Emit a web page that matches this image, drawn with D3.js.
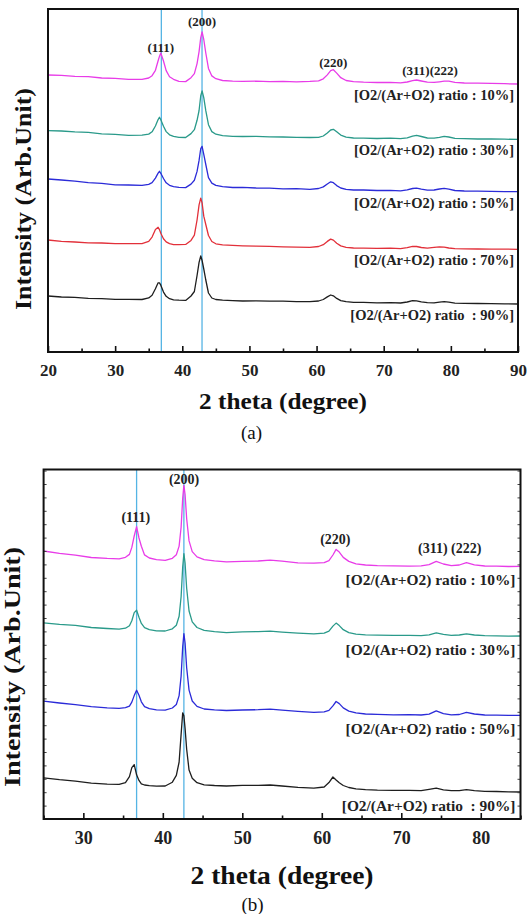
<!DOCTYPE html>
<html>
<head>
<meta charset="utf-8">
<script src="https://cdn.jsdelivr.net/npm/d3@7"></script>
<style>
  body { margin: 0; background: #fff; }
  svg text { font-family: "Liberation Serif", "Times New Roman", serif; }
</style>
</head>
<body>
<svg id="chart" width="528" height="914"></svg>
<script>
// ---- panel (a) data (arb. units) ----
var thetaA = [20,22,24,26,28,30,32,34,35,35.5,36,36.4,36.6,36.8,37.2,37.6,38.1,38.7,39.5,
  40.5,41.3,41.8,42.2,42.5,42.75,42.95,43.2,43.5,43.9,44.4,45,46,47.5,49,51,53,55,57,59,
  60.3,61,61.6,62.1,62.5,63,63.6,64.4,65.5,67,69,71,72.5,73.5,74.3,74.9,75.6,76.5,77.5,
  78.3,79,79.7,80.6,82,84,86,88,90];
var a10 = [277.0,276.6,275.6,275.3,274.0,273.6,272.6,272.7,274.0,276.3,281.7,291.2,295.6,299.0,291.0,281.4,275.2,272.7,270.6,
  270.4,274.3,278.3,288.4,300.4,314.4,320.0,312.5,299.0,283.6,276.1,273.3,271.5,270.8,270.6,270.8,270.4,270.6,270.2,270.6,
  271.2,273.2,277.1,281.3,282.3,278.9,274.3,271.5,270.3,269.8,269.5,269.6,269.2,270.0,271.4,272.0,271.0,269.8,269.6,
  270.2,270.8,270.9,269.6,269.0,268.8,268.6,268.3,268.0];
var a30 = [221.3,221.0,220.1,219.6,218.2,217.7,216.7,216.8,217.9,220.2,226.0,232.4,234.8,232.3,225.7,220.4,217.2,215.6,214.6,
  214.5,218.4,222.3,231.7,241.5,256.2,261.0,254.4,241.3,227.3,220.4,217.8,216.3,215.6,215.5,215.7,215.2,215.0,214.6,214.5,
  214.6,216.0,219.0,222.0,222.7,220.2,216.9,214.9,214.0,213.8,213.5,213.8,213.4,214.2,215.8,216.6,215.5,214.0,213.8,
  214.6,215.6,215.0,213.6,213.4,213.0,213.2,212.8,212.6];
var a50 = [173.0,172.0,170.8,169.3,168.6,167.2,167.0,166.6,167.7,169.3,173.9,178.9,180.7,178.7,173.5,169.2,166.7,165.4,164.6,
  164.4,167.9,171.7,180.6,191.6,203.4,205.6,197.6,187.5,174.4,168.9,166.6,165.3,164.5,164.6,164.0,163.9,163.2,163.4,162.7,
  163.5,165.1,168.0,170.2,169.3,166.4,164.0,162.7,162.0,162.0,161.5,161.7,161.2,162.2,163.5,163.8,162.8,161.8,162.0,
  163.0,163.6,162.9,161.5,161.0,160.9,160.7,160.4,160.3];
var a70 = [112.0,110.6,110.0,109.2,109.0,108.4,108.3,108.4,110.6,114.9,122.5,124.7,122.4,118.7,113.2,110.1,108.4,107.4,107.3,
  107.6,111.6,116.8,132.0,147.2,153.8,149.1,135.8,127.5,116.5,110.5,108.2,107.2,106.6,106.2,105.9,105.6,105.2,104.9,104.6,
  105.5,107.3,110.6,112.9,111.9,108.7,106.1,104.7,104.0,103.9,103.6,103.8,103.4,104.4,105.6,105.5,104.5,103.8,104.6,
  105.2,104.8,104.0,103.3,103.2,103.0,102.9,102.9,102.6];
var a90 = [56.0,55.0,54.6,53.7,53.4,52.7,52.6,52.5,54.1,56.7,63.3,69.2,69.1,66.8,59.9,55.7,53.3,52.1,51.8,
  51.6,56.0,60.5,76.5,89.7,96.0,91.5,83.0,72.0,59.0,54.0,52.5,51.8,51.3,51.0,51.2,50.9,50.8,50.4,50.4,
  51.0,52.5,55.1,57.0,56.2,53.6,51.4,50.3,49.7,49.6,49.2,49.4,49.0,50.0,51.3,51.2,50.2,49.3,49.2,
  49.8,50.3,49.9,48.9,48.7,48.5,48.4,48.2,48.0];
var ratiosA = ["10%", "30%", "50%", "70%", "90%"];
var ticksA = [20, 30, 40, 50, 60, 70, 80, 90];
var minorA = [25, 35, 45, 55, 65, 75, 85];
var guidesA = [36.88, 42.94];
var peakNamesA = ["(111)", "(200)", "(220)", "(311)(222)"];
var peakThetaA = [36.8, 42.95, 62.5, 76.9];

// ---- panel (b) data ----
var thetaB = [25,27,29,31,33,34.5,35.3,35.8,36.1,36.4,36.7,37,37.3,37.7,38.3,39.2,
  40.3,41.2,41.7,42.05,42.3,42.5,42.65,42.8,43,43.3,43.7,44.3,45.2,46.5,48,50,52,53.5,55,57,59,
  60.3,60.9,61.4,61.8,62.2,62.7,63.4,64.3,65.5,67,69,71,72.5,73.5,74.4,75.3,76.3,77.3,78.2,
  79.2,80.5,82,83.5,85];
var b10 = [268.0,265.6,263.8,261.5,260.6,260.2,261.7,264.6,271.6,283.0,292.3,281.0,272.7,264.1,261.0,259.3,
  258.6,260.7,264.2,272.9,291.8,320.6,333.6,324.5,300.2,278.1,267.4,262.1,259.3,258.2,257.2,257.6,258.0,258.8,257.9,256.2,255.8,
  256.4,258.3,264.0,269.6,266.9,261.6,257.6,255.2,254.0,253.3,253.1,252.9,253.1,254.3,257.6,255.0,253.4,254.0,256.3,
  254.2,253.0,252.8,252.5,252.6];
var b30 = [196.2,194.6,193.6,191.5,190.5,189.8,190.8,193.3,198.3,206.4,208.8,201.7,195.6,191.3,189.3,188.1,
  188.0,190.2,193.7,202.7,222.2,252.0,265.3,255.8,230.7,208.0,197.1,191.5,188.7,187.4,186.4,187.1,187.4,187.9,186.9,185.9,185.2,
  185.9,187.8,192.9,195.9,193.4,189.3,186.4,184.9,184.1,183.9,183.6,183.7,183.4,184.2,186.2,184.6,183.6,184.0,185.2,
  184.0,183.3,183.2,182.9,183.0];
var b50 = [117.8,116.0,114.4,112.3,111.2,110.7,111.4,112.9,116.9,123.4,128.7,123.8,117.2,112.3,110.3,109.2,
  108.8,111.0,114.5,123.4,142.7,172.1,185.3,176.0,151.3,128.9,118.0,112.6,110.0,109.1,108.5,109.0,109.3,109.9,108.9,107.7,106.7,
  107.2,108.6,113.1,117.5,115.4,111.1,107.9,106.1,105.0,104.6,104.2,104.4,104.0,104.8,108.2,105.4,104.2,104.5,106.6,
  105.0,104.0,103.9,103.6,103.7];
var b90 = [41.2,39.3,37.8,35.8,34.9,34.6,36.3,42.3,51.4,54.4,44.2,38.6,35.2,34.0,33.4,32.8,
  33.0,36.8,43.6,57.0,84.6,106.2,103.2,90.6,69.8,48.9,40.8,36.3,34.2,33.5,33.0,33.6,33.7,34.0,33.0,31.7,30.8,
  32.0,36.4,42.0,39.0,36.2,33.5,31.5,30.2,29.4,28.9,28.6,28.7,28.3,29.6,30.8,29.2,28.3,28.3,29.3,
  28.4,27.6,27.5,27.2,27.0];
var ratiosB = ["10%", "30%", "50%", "90%"];
var ticksB = [30, 40, 50, 60, 70, 80];
var minorB = [25, 35, 45, 55, 65, 75, 85];
var guidesB = [36.7, 42.65];
var peakNamesB = ["(111)", "(200)", "(220)", "(311) (222)"];
var peakThetaB = [36.6, 42.68, 61.7, 76.1];

var svg = d3.select("#chart");

function drawPanel(o) {
  var g = svg.append("g");
  var x = d3.scaleLinear().domain(o.xDomain).range([o.left, o.right]);
  var y = d3.scaleLinear().domain(o.yDomain).range([o.bottom, o.top]);

  // reference lines for (111) and (200)
  g.selectAll(".guide").data(o.guides).enter().append("line")
    .attr("x1", function(d) { return x(d); })
    .attr("x2", function(d) { return x(d); })
    .attr("y1", o.top).attr("y2", o.bottom)
    .attr("stroke", "#55b4e4").attr("stroke-width", 1.3);

  var line = d3.line()
    .x(function(d) { return x(d[0]); })
    .y(function(d) { return y(d[1]); });

  g.selectAll(".trace").data(o.series).enter().append("path")
    .attr("d", function(s) { return line(d3.zip(o.theta, s)); })
    .attr("fill", "none")
    .attr("stroke", function(s, i) { return o.colors[i]; })
    .attr("stroke-width", 1.3)
    .attr("stroke-linejoin", "round");

  // sample labels under each trace, right aligned
  g.selectAll(".ratio").data(o.series).enter().append("text")
    .attr("x", o.labelX)
    .attr("y", function(s) { return y(s[s.length - 1]) + o.labelDy; })
    .attr("text-anchor", "end")
    .style("white-space", "pre")
    .attr("font-size", o.labelSize).attr("font-weight", "bold").attr("fill", "#222")
    .text(function(s, i) {
      var r = o.ratios[i];
      return "[O2/(Ar+O2) ratio " + (r === "90%" ? " " : "") + ": " + r + "]";
    });

  // peak indices
  g.selectAll(".peak").data(o.peakNames).enter().append("text")
    .attr("x", function(d, i) { return x(o.peakTheta[i]); })
    .attr("y", function(d, i) { return o.peakY[i]; })
    .attr("text-anchor", "middle")
    .style("white-space", "pre")
    .attr("font-size", o.peakSize).attr("font-weight", "bold").attr("fill", "#222")
    .text(function(d) { return d; });

  // x axis, ticks pointing inward
  var ax = g.append("g").attr("transform", "translate(0," + o.bottom + ")")
    .call(d3.axisBottom(x).tickValues(o.ticks).tickSize(-6).tickPadding(o.tickPad).tickFormat(d3.format("d")));
  ax.selectAll("text").attr("font-size", o.tickSize).attr("font-weight", "bold").attr("fill", "#222");
  g.append("g").attr("transform", "translate(0," + o.bottom + ")")
    .call(d3.axisBottom(x).tickValues(o.minor).tickSize(-3.5).tickFormat(""));
  g.selectAll(".domain").remove();
  g.selectAll(".tick line").attr("stroke", "#111").attr("stroke-width", 1.6);

  if (o.yTicks) {
    var yl = g.append("g").attr("transform", "translate(" + o.left + ",0)")
      .call(d3.axisLeft(y).tickValues(o.yTicks).tickSize(-3).tickFormat(""));
    var yr = g.append("g").attr("transform", "translate(" + o.right + ",0)")
      .call(d3.axisRight(y).tickValues(o.yTicks).tickSize(-3).tickFormat(""));
    yl.select(".domain").remove();
    yr.select(".domain").remove();
    yl.selectAll("line").attr("stroke", "#444").attr("stroke-width", 1);
    yr.selectAll("line").attr("stroke", "#444").attr("stroke-width", 1);
  }

  // frame
  g.append("rect")
    .attr("x", o.left).attr("y", o.top)
    .attr("width", o.right - o.left).attr("height", o.bottom - o.top)
    .attr("fill", "none").attr("stroke", "#111").attr("stroke-width", 2);

  // titles (the original lettering is wide, so stretch to its measured length)
  g.append("text")
    .attr("x", (o.left + o.right) / 2).attr("y", o.xTitleY)
    .attr("text-anchor", "middle")
    .attr("font-size", o.xTitleSize).attr("font-weight", "bold").attr("fill", "#111")
    .attr("textLength", o.xTitleLen).attr("lengthAdjust", "spacingAndGlyphs")
    .text("2 theta (degree)");
  g.append("text")
    .attr("transform", "translate(" + o.yTitleX + "," + o.yTitleY + ") rotate(-90)")
    .attr("text-anchor", "middle")
    .attr("font-size", o.yTitleSize).attr("font-weight", "bold").attr("fill", "#111")
    .attr("textLength", o.yTitleLen).attr("lengthAdjust", "spacingAndGlyphs")
    .text("Intensity (Arb.Unit)");
  g.append("text")
    .attr("x", o.capX).attr("y", o.capY)
    .attr("text-anchor", "middle")
    .attr("font-size", 19).attr("fill", "#111")
    .text(o.caption);
}

drawPanel({
  theta: thetaA,
  series: [a10, a30, a50, a70, a90],
  colors: ["#e83ce8", "#2a9a8a", "#2b2bd8", "#e2303a", "#1e1e1e"],
  ratios: ratiosA,
  xDomain: [20, 90], yDomain: [0, 343],
  left: 48, right: 518, top: 9, bottom: 352,
  guides: guidesA,
  ticks: ticksA, minor: minorA, tickPad: 11.5, tickSize: 17,
  labelX: 514, labelDy: 16, labelSize: 14.5,
  peakNames: peakNamesA, peakTheta: peakThetaA, peakY: [52, 25.5, 67, 74.5], peakSize: 13,
  xTitleY: 408.5, xTitleSize: 22.5, xTitleLen: 168,
  yTitleX: 30.5, yTitleY: 199, yTitleSize: 23, yTitleLen: 222,
  caption: "(a)", capX: 251.5, capY: 439
});

drawPanel({
  theta: thetaB,
  series: [b10, b30, b50, b90],
  colors: ["#e83ce8", "#2a9a8a", "#2b2bd8", "#1e1e1e"],
  ratios: ratiosB,
  xDomain: [25, 85], yDomain: [0, 349.5],
  left: 43.6, right: 520.5, top: 469.5, bottom: 819,
  guides: guidesB,
  ticks: ticksB, minor: minorB, tickPad: 12, tickSize: 18,
  yTicks: d3.range(13.4, 349, 13.4),
  labelX: 515.5, labelDy: 18.5, labelSize: 15.4,
  peakNames: peakNamesB, peakTheta: peakThetaB, peakY: [522, 483.5, 544, 553], peakSize: 14,
  xTitleY: 884, xTitleSize: 26, xTitleLen: 183,
  yTitleX: 19.5, yTitleY: 667, yTitleSize: 22.5, yTitleLen: 240,
  caption: "(b)", capX: 252.5, capY: 911
});
</script>
</body>
</html>
